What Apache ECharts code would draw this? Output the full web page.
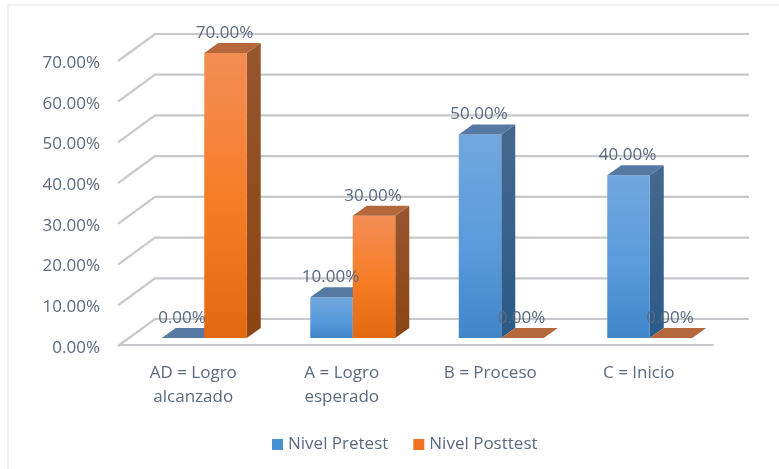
<!DOCTYPE html>
<html><head><meta charset="utf-8">
<style>html,body{margin:0;padding:0;background:#fff}#c{width:779px;height:469px;filter:blur(0.45px)}</style>
<script src="https://cdn.jsdelivr.net/npm/echarts@6/dist/echarts.min.js"></script>
</head><body><div id="c"></div>
<script>
const categories = ['AD = Logro\nalcanzado', 'A = Logro\nesperado', 'B = Proceso', 'C = Inicio'];
const pretest = [0, 10, 50, 40];
const posttest = [70, 30, 0, 0];
const ticks = [0, 10, 20, 30, 40, 50, 60, 70];
const seriesNames = ['Nivel Pretest', 'Nivel Posttest'];
const FONT = '"Open Sans"';
const TXT = '#5a6a80';
const GRID = '#c6c8cc';
const WALL = [36, -26];
const PLANE = [11, -7], DEPTH = [14, -10], BW = 42.5;

const palette = [
  {stops:['#72a7de','#5a9bdc','#3f86c9'], top:'#5579a3', sideHi:'#46688e', sideLo:'#2a5a88'},
  {stops:['#f38d55','#f67c24','#e2690f'], top:'#b5683c', sideHi:'#96562e', sideLo:'#8c4412'}
];
function barItem(idx){
  return function(params, api){
    const c = api.coord([api.value(0), api.value(1)]);
    const b = api.coord([api.value(0), 0]);
    const p = palette[idx];
    const x0 = c[0] + PLANE[0] + (idx === 0 ? -BW : 0), x1 = x0 + BW;
    const yT = c[1] + PLANE[1], yB = b[1] + PLANE[1];
    const ch = [];
    const d = DEPTH;
    if (yB - yT > 0.5) {
      ch.push({type:'polygon', shape:{points:[[x1,yT],[x1+d[0],yT+d[1]],[x1+d[0],yB+d[1]],[x1,yB]]},
        style:{fill:{type:'linear',x:0,y:0,x2:0,y2:1,colorStops:[{offset:0,color:p.sideHi},{offset:1,color:p.sideLo}]}}});
      ch.push({type:'rect', shape:{x:x0,y:yT,width:BW,height:yB-yT},
        style:{fill:{type:'linear',x:0,y:0,x2:0,y2:1,colorStops:[{offset:0,color:p.stops[0]},{offset:0.55,color:p.stops[1]},{offset:1,color:p.stops[2]}]}}});
    }
    ch.push({type:'polygon', shape:{points:[[x0,yT],[x0+d[0],yT+d[1]],[x1+d[0],yT+d[1]],[x1,yT]]}, style:{fill:p.top}});
    ch.push({type:'text', z2:100, style:{
      text: api.value(1).toFixed(2) + '%', x:(x0+x1)/2 - 1, y:yT-20,
      align:'center', verticalAlign:'middle', font:'17px '+FONT, fill:TXT}});
    return {type:'group', children:ch};
  };
}
const wallSeries = {
  type:'custom', silent:true, z:1, coordinateSystem:'cartesian2d', data:ticks.map(t=>[0,t]), clip:false,
  renderItem(params, api){
    const g = params.coordSys;
    const y = api.coord([0, api.value(1)])[1];
    const xL = g.x, xR = g.x + g.width;
    return {type:'polyline', shape:{points:[[xL-1,y+1],[xL+WALL[0],y+WALL[1]],[xR+WALL[0],y+WALL[1]]]},
      style:{stroke:GRID, lineWidth:2.2, fill:null}};
  }
};
const chart = echarts.init(document.getElementById('c'), null, {renderer:'canvas'});
chart.setOption({
  animation:false,
  backgroundColor:'#fff',
  graphic:[{type:'polyline', z:0, silent:true, shape:{points:[[8,469],[8,5],[779,5]]}, style:{stroke:'#eef0f3', lineWidth:1.5, fill:null}}],
  grid:{left:119, right:66, top:60, bottom:124},
  legend:{
    data:seriesNames, top:431, left:267, icon:'rect', itemWidth:11, itemHeight:11, itemGap:25,
    textStyle:{fontFamily:FONT, fontSize:17, color:TXT}
  },
  xAxis:{type:'category', data:categories, axisTick:{show:false},
    axisLine:{lineStyle:{color:GRID, width:2.2}},
    axisLabel:{fontFamily:FONT, fontSize:17, color:TXT, lineHeight:24, margin:16, interval:0}},
  yAxis:{type:'value', min:0, max:70, interval:10, splitLine:{show:false}, axisLine:{show:false}, axisTick:{show:false},
    axisLabel:{fontFamily:FONT, fontSize:17, color:TXT, margin:19, verticalAlign:'top', lineHeight:6, formatter:v=>v.toFixed(2)+'%'}},
  series:[
    wallSeries,
    {type:'custom', name:seriesNames[0], z:2, clip:false, itemStyle:{color:'#4a8fd2'}, encode:{x:0,y:1}, renderItem:barItem(0), data:pretest.map((v,i)=>[i,v])},
    {type:'custom', name:seriesNames[1], z:2, clip:false, itemStyle:{color:'#f0741f'}, encode:{x:0,y:1}, renderItem:barItem(1), data:posttest.map((v,i)=>[i,v])}
  ]
});
</script></body></html>
